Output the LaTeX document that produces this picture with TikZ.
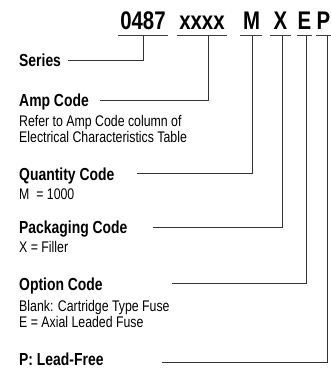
\documentclass[tikz,border=0pt]{standalone}
\usepackage{fontspec}
\setmainfont[FakeStretch=0.8]{Liberation Sans}
\begin{document}
\begin{tikzpicture}[x=1pt,y=-1pt,
  hdr/.style={font=\fontsize{25.5}{26}\selectfont\bfseries, inner sep=0pt, anchor=base},
  lbl/.style={font=\fontsize{17.4}{18}\selectfont\bfseries, inner sep=0pt, anchor=base west},
  desc/.style={font=\fontsize{15.4}{16}\selectfont, inner sep=0pt, anchor=base west, align=left},
  uline/.style={draw=black!75, line width=0.9pt},
  conn/.style={draw=black!80, line width=0.9pt}]
\useasboundingbox (0,0) rectangle (331,368);
% header
\node[hdr] (h1) at (143,29) {0487};
\node[hdr] (h2) at (202,29) {xxxx};
\node[hdr] (h3) at (251.5,29) {M};
\node[hdr] (h4) at (280.5,29) {X};
\node[hdr] (h5) at (304.5,29) {E};
\node[hdr] (h6) at (323.5,29) {P};
% underlines
\coordinate (u1a) at (118,35); \coordinate (u1b) at (168,35);
\coordinate (u2a) at (177,35); \coordinate (u2b) at (227,35);
\coordinate (u3a) at (240,35); \coordinate (u3b) at (262,35);
\coordinate (u4a) at (270,35); \coordinate (u4b) at (291,35);
\coordinate (u5a) at (297,35); \coordinate (u5b) at (312,35);
\coordinate (u6a) at (316,35); \coordinate (u6b) at (331,35);
\foreach \i in {1,...,6} {\draw[uline] (u\i a) -- (u\i b);}
% labels
\node[lbl] (series) at (19,66) {Series};
\node[lbl] (amp) at (19,106) {Amp Code};
\node[desc] (ampd1) at (19,126) {Refer to Amp Code column of};
\node[desc] (ampd2) at (19,142) {Electrical Characteristics Table};
\node[lbl] (qty) at (19,180) {Quantity Code};
\node[desc] (qtyd) at (19,199) {M\ \ = 1000};
\node[lbl] (pack) at (19,233) {Packaging Code};
\node[desc] (packd) at (19,252) {X = Filler};
\node[lbl] (opt) at (19,290) {Option Code};
\node[desc] (optd1) at (19,311) {Blank: Cartridge Type Fuse};
\node[desc] (optd2) at (19,327) {E = Axial Leaded Fuse};
\node[lbl] (lf) at (19,365.5) {P: Lead-Free};
% connectors
\coordinate (s0) at (68,60); \coordinate (s1) at (143,35);
\draw[conn] (s0) -| (s1);
\coordinate (a0) at (100,100); \coordinate (a1) at (208,35);
\draw[conn] (a0) -| (a1);
\coordinate (q0) at (137,173); \coordinate (q1) at (252,35);
\draw[conn] (q0) -| (q1);
\coordinate (p0) at (153,227); \coordinate (p1) at (282,35);
\draw[conn] (p0) -| (p1);
\coordinate (o0) at (172,283); \coordinate (o1) at (306,35);
\draw[conn] (o0) -| (o1);
\coordinate (l0) at (162,362); \coordinate (l1) at (327.5,35);
\draw[conn] (l0) -| (l1);
\end{tikzpicture}
\end{document}
